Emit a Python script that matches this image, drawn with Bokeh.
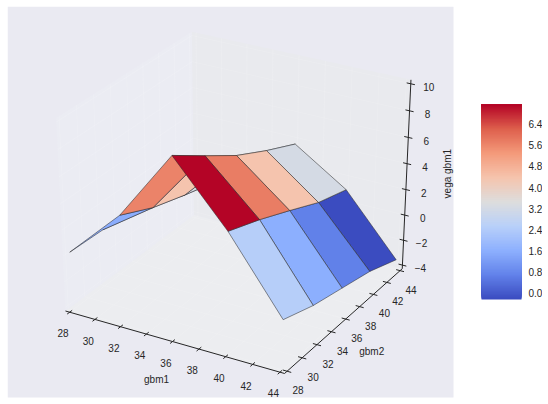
import numpy as np
from bokeh.embed import file_html
from bokeh.resources import INLINE
from bokeh.plotting import figure
from bokeh.models import ColumnDataSource, LinearColorMapper, Range1d
from bokeh.core.properties import value

gbm1 = [28, 32, 36, 40, 44]
gbm2 = [28, 32, 36, 40, 44]
vega_at_gbm1_28 = [0.25, 0.15, 0.05, -0.05, -0.15]
vega_at_gbm1_32 = [4.10, 2.90, 2.10, 1.40, 0.90]
vega_at_gbm1_36 = [9.45, 7.75, 6.10, 4.80, 3.65]
vega_at_gbm1_40 = [5.00, 4.05, 2.95, 1.80, 1.05]
vega_at_gbm1_44 = [-0.45, -1.35, -1.95, -2.55, -3.50]
xticks = [28, 30, 32, 34, 36, 38, 40, 42, 44]
yticks = [28, 30, 32, 34, 36, 38, 40, 42, 44]
zticks = [-4, -2, 0, 2, 4, 6, 8, 10]
cbar_ticks = [0.0, 0.8, 1.6, 2.4, 3.2, 4.0, 4.8, 5.6, 6.4]
coolwarm = [(59, 76, 192), (98, 130, 234), (141, 176, 254), (184, 208, 249), (221, 221, 221),
            (245, 196, 173), (244, 154, 123), (222, 96, 77), (180, 4, 38)]

vega = np.array([vega_at_gbm1_28, vega_at_gbm1_32, vega_at_gbm1_36, vega_at_gbm1_40, vega_at_gbm1_44])

# matplotlib-style 3D camera: elev 30, azim -60, dist 10
ELEV, AZIM, DIST = np.radians(30), np.radians(-60), 10.0
XMIN, XMAX, YMIN, YMAX, ZMIN, ZMAX = 28.0, 44.0, 28.0, 44.0, -4.0, 10.0
PADX, PADY, PADZ = (XMAX - XMIN) / 48, (YMAX - YMIN) / 48, (ZMAX - ZMIN) / 48
SX, TX, SY, TY = 2427.815, 236.068, -2115.582, 196.016
_n = np.array([np.cos(AZIM) * np.cos(ELEV), np.sin(AZIM) * np.cos(ELEV), np.sin(ELEV)])
_E = np.array([0.5, 0.5, 0.5]) + DIST * _n
_u = np.cross([0, 0, 1], _n); _u /= np.linalg.norm(_u)
_v = np.cross(_n, _u)

def project(x, y, z):
    p = np.array([(x - XMIN) / (XMAX - XMIN), (y - YMIN) / (YMAX - YMIN), (z - ZMIN) / (ZMAX - ZMIN)]) - _E
    w = -(p @ _n)
    return SX * (p @ _u) / w + TX, SY * (p @ _v) / w + TY, w

def P(x, y, z):
    return project(x, y, z)[:2]

W, H = 535, 394
LEFT, TOP = 7, 6
p = figure(width=W, height=H, output_backend="svg", toolbar_location=None, min_border=0,
           x_range=Range1d(LEFT, LEFT + W), y_range=Range1d(TOP + H, TOP))
p.axis.visible = False
p.grid.visible = False
p.outline_line_color = None
p.background_fill_color = "white"
p.border_fill_color = "white"
p.styles = {"margin-left": "7px", "margin-top": "6px"}

# axes background
p.quad(left=[LEFT], right=[453], top=[TOP], bottom=[397], fill_color="#EAEAF2", line_color=None)

# panes
x0, x1 = XMIN - PADX, XMAX + PADX
y0, y1 = YMIN - PADY, YMAX + PADY
z0, z1 = ZMIN - PADZ, ZMAX + PADZ
panes = [
    ([(x0, y0, z0), (x0, y1, z0), (x0, y1, z1), (x0, y0, z1)], "#EBECF3"),
    ([(x0, y1, z0), (x1, y1, z0), (x1, y1, z1), (x0, y1, z1)], "#E9EAEE"),
    ([(x0, y0, z0), (x1, y0, z0), (x1, y1, z0), (x0, y1, z0)], "#ECEDF0"),
]
for corners, col in panes:
    pts = [P(*c) for c in corners]
    p.patch([q[0] for q in pts], [q[1] for q in pts], fill_color=col, line_color=None)

# pane grid
gx0, gy0, gx1, gy1 = [], [], [], []
def grid(a, b):
    qa, qb = P(*a), P(*b)
    gx0.append(qa[0]); gy0.append(qa[1]); gx1.append(qb[0]); gy1.append(qb[1])
for t in xticks:
    grid((t, y0, z0), (t, y1, z0)); grid((t, y1, z0), (t, y1, z1))
for t in yticks:
    grid((x0, t, z0), (x1, t, z0)); grid((x0, t, z0), (x0, t, z1))
for t in zticks:
    grid((x0, y0, t), (x0, y1, t)); grid((x0, y1, t), (x1, y1, t))
p.segment(gx0, gy0, gx1, gy1, line_color="white", line_width=1, line_alpha=0.12)

# surface faces, farthest first; face value weights the first corner twice
faces = []
for i in range(len(gbm1) - 1):
    for j in range(len(gbm2) - 1):
        c = [(i, j), (i + 1, j), (i + 1, j + 1), (i, j + 1)]
        prj = [project(gbm1[a], gbm2[b], vega[a, b]) for a, b in c]
        val = (2 * vega[i, j] + vega[i + 1, j] + vega[i + 1, j + 1] + vega[i, j + 1]) / 5
        faces.append((np.mean([q[2] for q in prj]), [q[0] for q in prj], [q[1] for q in prj], val))
faces.sort(key=lambda f: -f[0])
vals = [f[3] for f in faces]
low, high = min(vals), max(vals)
anchors = np.linspace(0, 1, len(coolwarm))
arr = np.array(coolwarm, dtype=float)
palette = ["#%02x%02x%02x" % tuple(int(round(np.interp(t, anchors, arr[:, k]))) for k in range(3))
           for t in np.linspace(0, 1, 256)]
mapper = LinearColorMapper(palette=palette, low=low, high=high)
src = ColumnDataSource(dict(xs=[f[1] for f in faces], ys=[f[2] for f in faces], v=vals))
p.patches("xs", "ys", source=src, fill_color={"field": "v", "transform": mapper},
          line_color="#2a2a2a", line_width=0.6, line_alpha=0.9)

# axis lines
ax = [((x0, y0, z0), (x1, y0, z0)), ((x1, y0, z0), (x1, y1, z0)), ((x1, y1, z0), (x1, y1, z1))]
AXC = "#262626"
p.segment([P(*a)[0] for a, b in ax], [P(*a)[1] for a, b in ax],
          [P(*b)[0] for a, b in ax], [P(*b)[1] for a, b in ax], line_color=AXC, line_width=1)

# ticks
DT = 0.3
tx0, ty0, tx1, ty1 = [], [], [], []
def tick(a, b):
    qa, qb = P(*a), P(*b)
    tx0.append(qa[0]); ty0.append(qa[1]); tx1.append(qb[0]); ty1.append(qb[1])
for t in xticks:
    tick((t, y0 - DT, z0), (t, y0 + DT, z0))
for t in yticks:
    tick((x1 - DT, t, z0), (x1 + DT, t, z0))
for t in zticks:
    tick((x1 - DT, y1, t), (x1 + DT, y1, t))
p.segment(tx0, ty0, tx1, ty1, line_color=AXC, line_width=1)

# tick labels
font = value("Liberation Sans")
def labels(xs, ys, txt, angle=0.0, align="center"):
    p.text(xs, ys, text=txt, text_font=font, text_font_size="10px", text_color="#262626",
           text_align=align, text_baseline="middle", angle=angle)
labels([P(t, y0, z0)[0] - 6.6 for t in xticks], [P(t, y0, z0)[1] + 21.2 for t in xticks], [str(t) for t in xticks])
labels([P(x1, t, z0)[0] + 11 for t in yticks], [P(x1, t, z0)[1] + 19 for t in yticks], [str(t) for t in yticks])
labels([P(x1, y1, t)[0] + 18 for t in zticks], [P(x1, y1, t)[1] + 3.2 for t in zticks],
       [str(t).replace("-", "\u2212") for t in zticks])
qx = P(36, y0, z0); qy = P(x1, 36, z0); qz = P(x1, y1, 3)
labels([qx[0] - 16], [qx[1] + 38], ["gbm1"])
labels([qy[0] + 26], [qy[1] + 32], ["gbm2"])
labels([qz[0] + 40.7], [qz[1] - 3], ["vega gbm1"], angle=np.pi / 2)

# colour bar: stacked bands painted bottom-up, each reaching the bar's top, so no seams show
BAR_L, BAR_R, BAR_T, BAR_B = 481, 521, 104, 299
def bar_y(v):
    return BAR_B - (v - low) / (high - low) * (BAR_B - BAR_T)
rows = BAR_B - BAR_T
row_bottoms = np.arange(BAR_B, BAR_T, -1)
mids = low + (np.arange(rows) + 0.5) / rows * (high - low)
bar_src = ColumnDataSource(dict(v=mids, b=row_bottoms, t=[BAR_T] * rows))
p.quad(left=BAR_L, right=BAR_R, top="t", bottom="b", source=bar_src,
       fill_color={"field": "v", "transform": mapper}, line_color=None)
labels([528] * len(cbar_ticks), [bar_y(t) + 0.5 for t in cbar_ticks], ["%.1f" % t for t in cbar_ticks], align="left")

open("out.html", "w").write(file_html(p, INLINE))
